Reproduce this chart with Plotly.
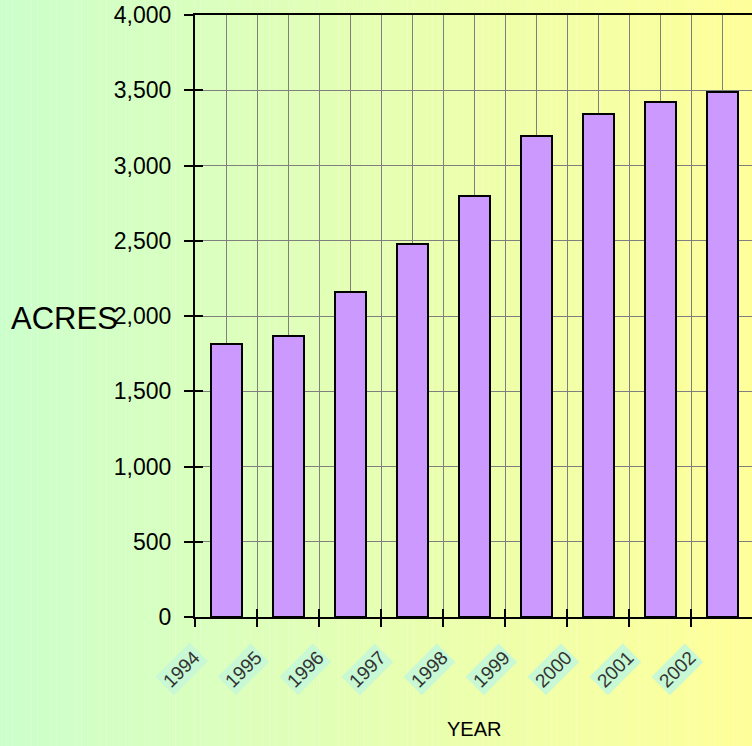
import plotly.graph_objects as go

years = ["1994", "1995", "1996", "1997", "1998", "1999", "2000", "2001", "2002"]
acres = [1815, 1865, 2160, 2480, 2800, 3195, 3345, 3425, 3490]
y_ticks = [0, 500, 1000, 1500, 2000, 2500, 3000, 3500, 4000]
y_ticktext = ["0", "500", "1,000", "1,500", "2,000", "2,500", "3,000", "3,500", "4,000"]

W, H = 752, 746
ML, MR, MT, MB = 195, 0, 15, 129
pw, ph = W - ML - MR, H - MT - MB
cat_px = 62.0
xmax = pw / cat_px

fig = go.Figure()

fig.add_trace(go.Bar(
    x=[i + 0.5 for i in range(len(years))], y=acres, width=0.5,
    marker=dict(color="#CC99FF", line=dict(color="black", width=2)),
    hoverinfo="y", showlegend=False,
))
fig.add_trace(go.Scatter(x=[None], y=[None], xaxis="x2", yaxis="y2", showlegend=False))

n = 120
c0 = (204, 255, 204)
c1 = (255, 255, 153)
shapes = []
for k in range(n):
    t = (k + 0.5) / n
    col = tuple(round(c0[j] + (c1[j] - c0[j]) * t) for j in range(3))
    x0 = -ML / pw + k * (W / pw) / n
    x1 = -ML / pw + (k + 1.02) * (W / pw) / n
    shapes.append(dict(type="rect", xref="paper", yref="paper", layer="below",
                       x0=x0, x1=x1, y0=-MB / ph, y1=1 + MT / ph,
                       fillcolor="rgb(%d,%d,%d)" % col, line=dict(width=0)))

annotations = []
for i, yr in enumerate(years):
    annotations.append(dict(
        x=i, y=0, xref="x", yref="paper", text=yr, showarrow=False,
        textangle=-45, xanchor="center", yanchor="middle", xshift=-14, yshift=-52,
        font=dict(family="Liberation Sans Narrow, Liberation Sans, Arial", size=19, color="#333333"),
        bgcolor="#C8F8D4", borderpad=2,
    ))
annotations.append(dict(x=0.5, y=0, xref="paper", yref="paper", text="YEAR", showarrow=False,
                        xanchor="center", yanchor="middle", yshift=-112,
                        font=dict(family="Liberation Sans, Arial", size=20, color="black")))
annotations.append(dict(x=0, y=0.5, xref="paper", yref="paper", text="ACRES", showarrow=False,
                        xanchor="right", yanchor="middle", xshift=-75, yshift=-2,
                        font=dict(family="Liberation Sans, Arial", size=31, color="black")))

fig.update_layout(
    width=W, height=H,
    margin=dict(l=ML, r=MR, t=MT, b=MB, pad=0),
    paper_bgcolor="rgba(0,0,0,0)", plot_bgcolor="rgba(0,0,0,0)",
    shapes=shapes, annotations=annotations,
    bargap=0,
    font=dict(family="Liberation Sans, Arial", color="black"),
    xaxis=dict(range=[0, xmax], tickvals=list(range(len(years))), showticklabels=False,
               ticks="outside", ticklen=8, tickwidth=2, tickcolor="black",
               showgrid=True, gridcolor="#7f7f7f", gridwidth=1,
               minor=dict(dtick=0.5, tick0=0, showgrid=True, gridcolor="#7f7f7f", gridwidth=1, ticks=""),
               showline=True, linecolor="black", linewidth=2, mirror=True, zeroline=False,
               fixedrange=True),
    yaxis=dict(range=[0, 4000], tickvals=y_ticks, ticktext=y_ticktext,
               ticks="outside", ticklen=9, tickwidth=2, tickcolor="black",
               tickfont=dict(size=23, family="Liberation Sans, Arial"), ticklabelstandoff=8,
               showgrid=True, gridcolor="#7f7f7f", gridwidth=1,
               showline=True, linecolor="black", linewidth=2, zeroline=False, fixedrange=True),
    xaxis2=dict(overlaying="x", anchor="y2", range=[0, xmax], tickvals=list(range(len(years))),
                showticklabels=False, ticks="inside", ticklen=8, tickwidth=2, tickcolor="black",
                showgrid=False, zeroline=False, showline=False, side="bottom"),
    yaxis2=dict(overlaying="y", anchor="x2", range=[0, 4000], tickvals=y_ticks,
                showticklabels=False, ticks="inside", ticklen=8, tickwidth=2, tickcolor="black",
                showgrid=False, zeroline=False, showline=False, side="left"),
)

fig.write_html("out.html", config={"displayModeBar": False},
               post_script="document.body.style.margin='0';document.body.style.padding='0';")
